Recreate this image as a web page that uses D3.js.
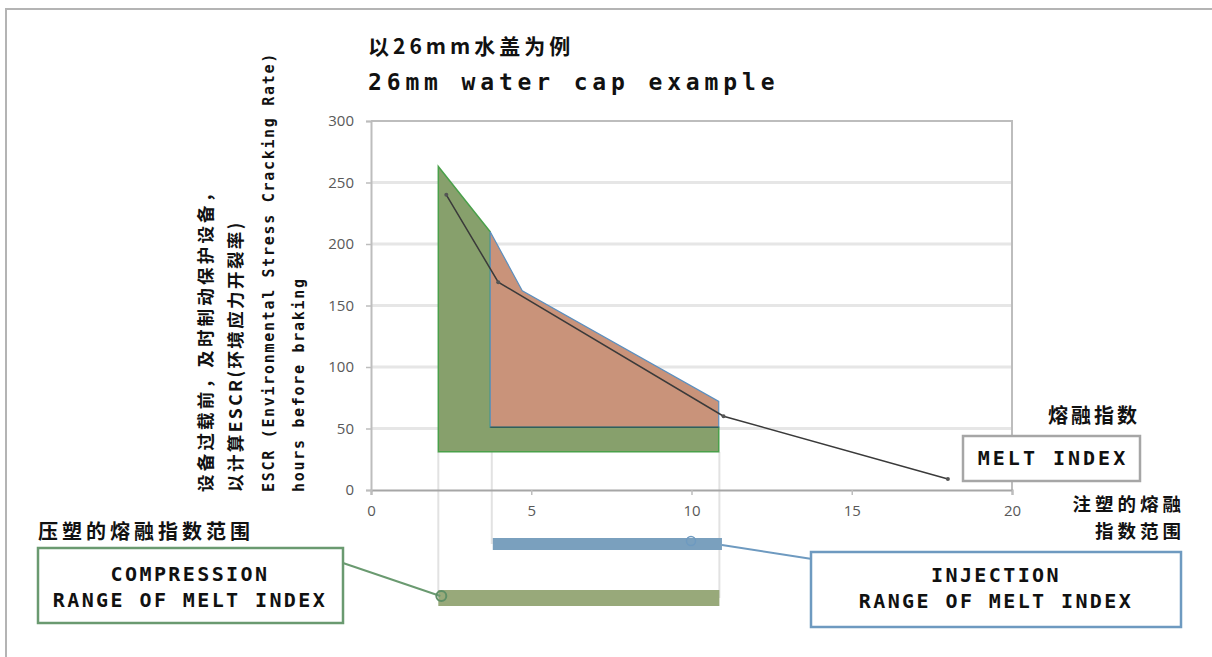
<!DOCTYPE html>
<html><head><meta charset="utf-8">
<script src="https://cdn.jsdelivr.net/npm/d3@7"></script>
<style>html,body{margin:0;padding:0;background:#fff}svg{display:block}</style>
</head><body>
<svg id="c" width="1212" height="657"></svg>
<script>
// ---- data ----
const xTicks = [0, 5, 10, 15, 20];
const yTicks = [0, 50, 100, 150, 200, 250, 300];
const compressionX = [2.1, 3.72, 3.72, 10.85, 10.85, 2.1];
const compressionY = [263, 210, 51, 51, 31, 31];
const injectionX = [3.72, 4.72, 10.85, 10.85, 3.72];
const injectionY = [210, 162, 72, 51, 51];
const escrX = [2.35, 3.97, 11.0, 18.0];
const escrY = [240, 169, 60, 9];
const compressionRange = [2.1, 10.87];
const injectionRange = [3.8, 10.95];
const titleCN = "以26mm水盖为例";
const titleEN = "26mm water cap example";
const yLabelLines = ["设备过载前，及时制动保护设备，", "以计算ESCR(环境应力开裂率)", "ESCR (Environmental Stress Cracking Rate)", "hours before braking"];

const svg = d3.select("#c");
const x = d3.scaleLinear().domain([0, 20]).range([371, 1012]);
const y = d3.scaleLinear().domain([0, 300]).range([490, 121]);
const mono = "'DejaVu Sans Mono', monospace";
const cjk = "'Noto Sans CJK SC', sans-serif";

// outer frame
svg.append("path").attr("d", "M6,657V9H1212").attr("fill", "none").attr("stroke", "#b4b4b4").attr("stroke-width", 2);

// gridlines
svg.append("g").selectAll("line").data(yTicks.filter(d => d > 0 && d < 300)).join("line")
  .attr("x1", x(0)).attr("x2", x(20)).attr("y1", d => y(d)).attr("y2", d => y(d))
  .attr("stroke", "#e6e6e6").attr("stroke-width", 3);

// frame top/right
svg.append("path").attr("d", `M${x(0)},${y(300)}H${x(20)}V${y(0)}`).attr("fill", "none").attr("stroke", "#bdbdbd").attr("stroke-width", 2);

// vertical guide lines
svg.append("line").attr("x1", x(compressionRange[0])).attr("x2", x(compressionRange[0])).attr("y1", y(31)).attr("y2", 598).attr("stroke", "#e2e2e2").attr("stroke-width", 2);
svg.append("line").attr("x1", x(injectionRange[0]) - 1).attr("x2", x(injectionRange[0]) - 1).attr("y1", y(31)).attr("y2", 544).attr("stroke", "#e2e2e2").attr("stroke-width", 2);
svg.append("line").attr("x1", x(compressionRange[1])).attr("x2", x(compressionRange[1])).attr("y1", y(31)).attr("y2", 598).attr("stroke", "#e2e2e2").attr("stroke-width", 2);

// axes
const xAxis = d3.axisBottom(x).tickValues(xTicks).tickSize(5).tickPadding(10);
const gx = svg.append("g").attr("transform", `translate(0,${y(0)})`).call(xAxis);
gx.select(".domain").attr("stroke", "#a6a6a6").attr("stroke-width", 2);
gx.selectAll(".tick line").attr("stroke", "#bdbdbd").attr("stroke-width", 1.5);
gx.selectAll("text").attr("fill", "#595959").style("font", "15px 'Open Sans', sans-serif");

const yAxis = d3.axisLeft(y).tickValues(yTicks).tickSize(5).tickPadding(12);
const gy = svg.append("g").attr("transform", `translate(${x(0)},0)`).call(yAxis);
gy.select(".domain").attr("stroke", "#bdbdbd").attr("stroke-width", 2);
gy.selectAll(".tick line").attr("stroke", "#bdbdbd").attr("stroke-width", 1.5);
gy.selectAll("text").attr("fill", "#595959").style("font", "15px 'Open Sans', sans-serif");

// polygons
const poly = (xs, ys) => xs.map((v, i) => [x(v), y(ys[i])]);
const lineGen = d3.line();
svg.append("path").attr("d", lineGen(poly(compressionX, compressionY)) + "Z")
  .attr("fill", "#87a06c").attr("stroke", "#4aa04a").attr("stroke-width", 1.5);
svg.append("path").attr("d", lineGen(poly(injectionX, injectionY)) + "Z")
  .attr("fill", "#c9937a").attr("stroke", "#5b8fbf").attr("stroke-width", 1.2);
svg.append("line").attr("x1", x(injectionX[4])).attr("x2", x(injectionX[3])).attr("y1", y(51)).attr("y2", y(51))
  .attr("stroke", "#2f5f5a").attr("stroke-width", 1.5);

// ESCR line
svg.append("path").attr("d", lineGen(poly(escrX, escrY))).attr("fill", "none").attr("stroke", "#3a3a3a").attr("stroke-width", 1.5);
svg.append("g").selectAll("circle").data(escrX).join("circle")
  .attr("cx", d => x(d)).attr("cy", (d, i) => y(escrY[i])).attr("r", 2).attr("fill", "#555");

// range bars
svg.append("rect").attr("x", x(injectionRange[0])).attr("width", x(injectionRange[1]) - x(injectionRange[0]))
  .attr("y", 538).attr("height", 12).attr("fill", "#7aa0be");
svg.append("rect").attr("x", x(compressionRange[0])).attr("width", x(compressionRange[1]) - x(compressionRange[0]))
  .attr("y", 590).attr("height", 16).attr("fill", "#98a97a");

// connectors
svg.append("line").attr("x1", x(injectionRange[1])).attr("y1", 545).attr("x2", 812).attr("y2", 559).attr("stroke", "#6e9ac0").attr("stroke-width", 2);
svg.append("circle").attr("cx", 691).attr("cy", 541).attr("r", 4.5).attr("fill", "none").attr("stroke", "#6e9ac0").attr("stroke-width", 1.5);
svg.append("line").attr("x1", 343).attr("y1", 563).attr("x2", x(compressionRange[0]) + 2).attr("y2", 596).attr("stroke", "#6a9a70").attr("stroke-width", 2);
svg.append("circle").attr("cx", x(compressionRange[0]) + 3).attr("cy", 596).attr("r", 5).attr("fill", "none").attr("stroke", "#5f8f66").attr("stroke-width", 2);

// boxes
const box = (x0, y0, w, h, c) => svg.append("rect").attr("x", x0).attr("y", y0).attr("width", w).attr("height", h)
  .attr("fill", "#fff").attr("stroke", c).attr("stroke-width", 2.5);
box(38, 548, 305, 75, "#6a9a70");
box(811, 552, 370, 75, "#6e9ac0");
box(963, 436, 177, 45, "#a6a6a6");

const txt = (s, tx, ty, font, opts = {}) => svg.append("text").attr("x", tx).attr("y", ty).text(s)
  .style("font-family", font).style("font-size", (opts.size || 18) + "px").style("font-weight", "bold")
  .style("letter-spacing", (opts.ls || 0) + "px").attr("text-anchor", opts.anchor || "start").attr("fill", "#111");

txt("COMPRESSION", 190, 581, mono, {size: 20, ls: 2.4, anchor: "middle"});
txt("RANGE OF MELT INDEX", 190, 607, mono, {size: 20, ls: 2.4, anchor: "middle"});
txt("INJECTION", 996, 582, mono, {size: 20, ls: 2.4, anchor: "middle"});
txt("RANGE OF MELT INDEX", 996, 608, mono, {size: 20, ls: 2.4, anchor: "middle"});
txt("MELT INDEX", 1053, 465, mono, {size: 20, ls: 3, anchor: "middle"});

txt("熔融指数", 1140, 423, cjk, {size: 20, ls: 3, anchor: "end"});
txt("注塑的熔融", 1185, 511, cjk, {size: 18.5, ls: 4, anchor: "end"});
txt("指数范围", 1185, 538, cjk, {size: 18.5, ls: 4, anchor: "end"});
txt("压塑的熔融指数范围", 38, 539, cjk, {size: 20, ls: 4});

txt(titleCN, 368, 54, cjk, {size: 21, ls: 4});
txt(titleEN, 368, 90, mono, {size: 23, ls: 4.85});

// rotated y labels
const ylab = [[212, 17.5, cjk, 3.2], [242, 17.5, cjk, 2.4], [274, 15, mono, 1.7], [304, 15, mono, 1.7]];
yLabelLines.forEach((s, i) => {
  const [lx, sz, f, ls] = ylab[i];
  svg.append("text").attr("transform", `translate(${lx},492) rotate(-90)`).text(s)
    .style("font-family", f).style("font-size", sz + "px").style("font-weight", "bold")
    .style("letter-spacing", ls + "px").attr("fill", "#111");
});
</script>
</body></html>
